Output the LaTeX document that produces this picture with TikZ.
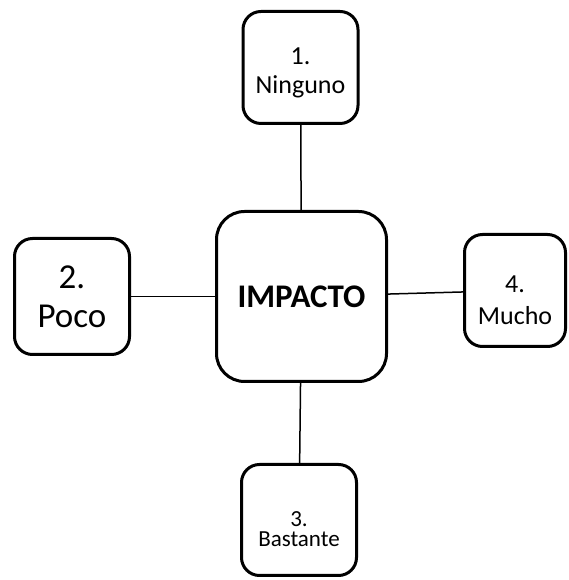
\documentclass[tikz,border=0pt]{standalone}
\usepackage{fontspec}
\setmainfont{Carlito}
\usetikzlibrary{positioning}
\newcommand{\toppad}[1]{\rule{0pt}{#1}}

\begin{document}
\begin{tikzpicture}[
    x=1pt, y=1pt,
    box/.style={rectangle, rounded corners=18pt, draw=black, line width=3pt, fill=white, align=center, inner sep=2pt},
    centre/.style={box, rounded corners=28pt, minimum width=170pt, minimum height=170pt, font=\fontsize{33}{36}\selectfont\bfseries},
    option/.style={box, minimum width=115pt, minimum height=112pt},
    link/.style={line width=1.5pt, draw=black}
]
\useasboundingbox (0,0) rectangle (569,580);

\node[centre] (impacto) at (301.5,283.5) {IMPACTO};

% the four levels round the centre
\node[option, above=85pt of impacto, xshift=-1pt, font=\fontsize{26}{29}\selectfont] (ninguno) {\toppad{26.5pt}1.\\Ninguno};
\node[option, left=84pt of impacto, minimum height=116pt, font=\fontsize{35}{39}\selectfont] (poco) {2.\\Poco};
\node[option, below=80pt of impacto, xshift=-2.5pt, minimum height=111pt, font=\fontsize{23}{20}\selectfont] (bastante) {\toppad{34pt}3.\\Bastante};
\node[option, right=75pt of impacto, yshift=6pt, minimum width=101pt, font=\fontsize{26}{32}\selectfont] (mucho) {\toppad{36.5pt}4.\\Mucho};

\draw[link] (impacto) -- (ninguno);
\draw[link] (impacto) -- (poco);
\draw[link] (impacto) -- (bastante);
\draw[link] (impacto) -- (mucho);

\end{tikzpicture}
\end{document}
